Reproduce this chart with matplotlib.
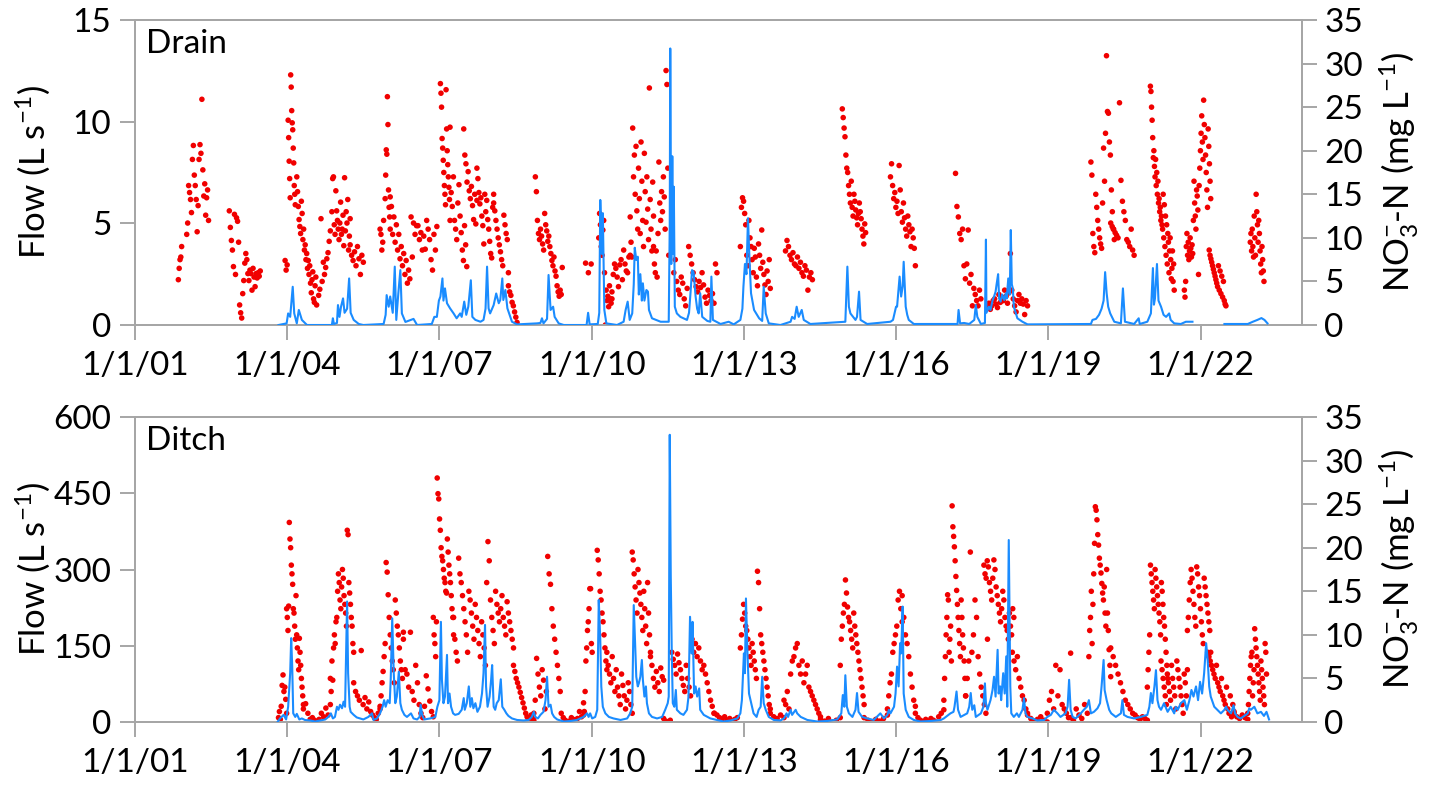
import numpy as np
import matplotlib
matplotlib.use("Agg")
import matplotlib.pyplot as plt
import matplotlib.dates as mdates
from matplotlib.ticker import FuncFormatter
from datetime import datetime

plt.rcParams['font.family'] = ['Lato', 'DejaVu Sans']
plt.rcParams['mathtext.fontset'] = 'custom'
plt.rcParams['mathtext.rm'] = 'Lato'
plt.rcParams['mathtext.it'] = 'Lato:italic'

nan = float('nan')

# ---- Drain: flow (L/s), (decimal year, value) ----
drain_flow = [
    (2003.83, 0), (2003.99, 0.08), (2004.02, 0.57), (2004.06, 0.4), (2004.11, 1.88), (2004.14, 0.57),
    (2004.19, 0.08), (2004.23, 0.74), (2004.29, 0.25), (2004.39, 0.0),
    (2004.88, 0.0), (2004.9, 0.33), (2004.92, 0.05), (2004.98, 0.1), (2005.0, 0.98), (2005.03, 0.4),
    (2005.06, 0.9), (2005.1, 1.31), (2005.13, 0.6), (2005.18, 0.8), (2005.22, 2.29), (2005.25, 0.6),
    (2005.31, 0.25), (2005.41, 0.05), (2005.5, 0.0),
    (2005.9, 0.05), (2005.94, 0.5), (2005.96, 1.47), (2006.0, 0.9), (2006.03, 1.4), (2006.08, 0.6),
    (2006.12, 2.87), (2006.15, 0.25), (2006.19, 1.55), (2006.23, 2.7), (2006.26, 0.57), (2006.33, 0.15),
    (2006.49, 0.3), (2006.56, 0.0),
    (2006.85, 0.05), (2006.9, 0.4), (2006.95, 0.4), (2006.99, 1.2), (2007.02, 1.4), (2007.06, 2.29),
    (2007.08, 1.2), (2007.11, 1.8), (2007.15, 1.07), (2007.21, 0.82), (2007.28, 0.57), (2007.34, 0.33),
    (2007.41, 0.57), (2007.44, 0.4), (2007.49, 1.15), (2007.53, 0.5), (2007.57, 0.9), (2007.62, 2.2),
    (2007.65, 0.4), (2007.71, 0.25), (2007.81, 0.16), (2007.87, 0.25), (2007.91, 0.8), (2007.94, 2.87),
    (2007.97, 0.82), (2008.0, 0.57), (2008.07, 0.98), (2008.12, 1.55), (2008.17, 1.07), (2008.2, 1.23),
    (2008.24, 2.29), (2008.26, 1.23), (2008.3, 1.72), (2008.34, 0.82), (2008.43, 0.16), (2008.53, 0.03),
    (2008.92, 0.08), (2008.99, 0.1), (2009.02, 0.33), (2009.05, 0.08), (2009.12, 0.3), (2009.15, 2.46),
    (2009.19, 0.74), (2009.24, 0.9), (2009.27, 0.4), (2009.35, 0.08), (2009.45, 0.0),
    (2009.9, 0.0), (2009.93, 0.6), (2009.96, 0.03),
    (2010.12, 0.05), (2010.15, 0.6), (2010.17, 6.15), (2010.2, 3.5), (2010.22, 5.5), (2010.25, 0.74),
    (2010.29, 0.08), (2010.5, 0.0),
    (2010.63, 0.16), (2010.67, 0.74), (2010.71, 1.15), (2010.75, 0.25), (2010.8, 0.57), (2010.83, 2.0),
    (2010.85, 3.8), (2010.88, 3.2), (2010.91, 3.36), (2010.93, 1.5), (2010.96, 2.5), (2010.99, 1.2),
    (2011.01, 2.05), (2011.04, 1.2), (2011.08, 1.72), (2011.11, 1.64), (2011.13, 0.74), (2011.19, 0.33),
    (2011.36, 0.16), (2011.52, 0.16), (2011.54, 5.0), (2011.55, 13.6), (2011.57, 3.0), (2011.59, 8.3),
    (2011.61, 3.5), (2011.62, 6.8), (2011.64, 0.9), (2011.68, 0.57), (2011.75, 0.4), (2011.88, 0.25),
    (2011.92, 0.6), (2011.95, 1.6), (2011.98, 2.7), (2012.01, 2.6), (2012.05, 1.4), (2012.08, 0.8),
    (2012.11, 0.57), (2012.14, 1.56), (2012.18, 0.4), (2012.28, 0.2), (2012.34, 0.16), (2012.36, 2.38),
    (2012.39, 0.25), (2012.54, 0.05), (2012.7, 0.16), (2012.8, 0.03),
    (2012.93, 0.25), (2012.97, 0.8), (2012.99, 1.88), (2013.02, 3.0), (2013.05, 2.5), (2013.08, 5.25),
    (2013.11, 3.2), (2013.14, 1.56), (2013.2, 0.74), (2013.3, 0.33), (2013.36, 0.2), (2013.39, 1.88),
    (2013.43, 0.57), (2013.49, 0.08), (2013.72, 0.0),
    (2013.92, 0.16), (2013.95, 0.4), (2014.0, 0.3), (2014.04, 0.9), (2014.08, 0.4), (2014.14, 0.74),
    (2014.18, 0.25), (2014.31, 0.05),
    (2015.0, 0.16), (2015.04, 2.87), (2015.07, 0.9), (2015.1, 0.57), (2015.2, 0.25), (2015.23, 0.4),
    (2015.27, 1.64), (2015.3, 0.25), (2015.43, 0.05),
    (2015.89, 0.16), (2015.94, 0.25), (2016.0, 0.9), (2016.02, 0.9), (2016.07, 2.38), (2016.1, 1.4),
    (2016.13, 1.9), (2016.15, 3.11), (2016.19, 0.9), (2016.22, 0.5), (2016.25, 0.25), (2016.35, 0.05),
    (2017.21, 0.05), (2017.23, 0.74), (2017.26, 0.08), (2017.34, 0.1), (2017.44, 0.05), (2017.54, 0.25),
    (2017.57, 0.98), (2017.6, 0.4), (2017.67, 0.05), (2017.75, 0.1), (2017.77, 4.2), (2017.78, 0.6),
    (2017.83, 0.9), (2017.86, 0.74), (2017.9, 1.2), (2017.93, 1.4), (2017.96, 1.64), (2017.98, 2.0),
    (2018.01, 2.5), (2018.03, 1.3), (2018.06, 1.15), (2018.09, 1.5), (2018.13, 1.23), (2018.16, 1.56),
    (2018.18, 1.3), (2018.21, 2.29), (2018.24, 1.5), (2018.26, 4.67), (2018.28, 2.0), (2018.3, 1.8),
    (2018.32, 0.9), (2018.39, 0.33), (2018.49, 0.16), (2018.59, 0.03),
    (2019.84, 0.05), (2019.87, 0.25), (2019.94, 0.3), (2020.0, 0.5), (2020.05, 0.8), (2020.09, 1.2),
    (2020.12, 2.6), (2020.15, 1.56), (2020.18, 0.9), (2020.22, 0.57), (2020.3, 0.16), (2020.43, 0.08),
    (2020.47, 1.8), (2020.51, 0.16), (2020.69, 0.05), (2020.78, 0.33), (2020.8, 0.05),
    (2020.95, 0.16), (2021.02, 0.57), (2021.06, 2.8), (2021.08, 1.0), (2021.1, 1.3), (2021.14, 3.0),
    (2021.17, 1.2), (2021.22, 0.9), (2021.27, 0.5), (2021.32, 0.4), (2021.38, 0.57), (2021.41, 0.25),
    (2021.48, 0.08), (2021.61, 0.05), (2021.71, 0.16), (2021.84, 0.16),
    (2022.15, nan),
    (2022.47, 0.05), (2022.93, 0.05), (2023.03, 0.16), (2023.12, 0.25), (2023.2, 0.34), (2023.26, 0.25),
    (2023.32, 0.08),
]

# ---- Drain: NO3-N (mg/L), sampling runs (start year, end year, values) ----
drain_no3 = [
    (2001.855, 2001.92, [5.2, 6.5, 7.5, 7.8, 9.0]),
    (2002.02, 2002.45, [10.4, 11.7, 16.0, 15.2, 14.4, 12.9, 19.0, 20.6, 17.2, 16.0, 14.4, 10.7, 13.7, 19.0,
                        20.7, 19.7, 25.9, 17.8, 14.8, 16.2, 12.6, 14.6, 15.5, 12.0]),
    (2002.86, 2003.47, [13.1, 11.2, 9.7, 8.6, 6.7, 12.7, 5.8, 12.3, 11.9, 9.5, 2.3, 1.4, 0.8, 3.6, 5.1, 7.1,
                        8.2, 7.5, 5.9, 5.1, 6.3, 5.9, 4.0, 6.5, 5.5, 4.4, 5.9, 5.4, 6.0, 5.6, 6.2]),
    (2003.96, 2004.0, [7.4, 6.3, 6.9]),
    (2004.02, 2004.16, [23.5, 21.5, 18.8, 16.8, 14.6, 28.7, 27.3, 24.6, 23.2, 22.4, 20.3, 18.6, 16.0, 15.0, 13.8]),
    (2004.19, 2004.58, [17.0, 15.3, 13.6, 12.1, 11.3, 10.5, 14.2, 12.8, 9.8, 11.0, 8.6, 9.2, 7.5, 8.2, 6.5, 7.4,
                        5.8, 6.8, 4.8, 3.7, 5.2, 6.1, 3.0, 2.6, 4.5, 5.5, 2.3]),
    (2004.62, 2004.85, [3.4, 4.1, 12.2, 5.0, 7.2, 5.8, 6.6, 7.6, 8.3, 9.6, 10.8]),
    (2004.88, 2005.24, [13.0, 16.8, 17.0, 11.5, 10.4, 15.4, 13.1, 12.0, 11.0, 9.8, 11.7, 14.1, 10.4, 11.0, 12.6,
                        9.1, 16.9, 10.8, 13.0, 11.7, 14.4, 8.6, 10.2, 12.2]),
    (2005.24, 2005.50, [9.2, 8.0, 7.4, 8.4, 6.8, 9.0, 7.6, 5.8, 8.0, 7.2]),
    (2005.83, 2005.90, [11.0, 10.4, 8.6, 9.5, 12.0]),
    (2005.93, 2006.03, [14.5, 17.2, 20.1, 19.6, 26.2, 23.0, 15.5, 13.5, 12.4, 11.0]),
    (2006.03, 2006.49, [14.7, 13.6, 10.4, 12.4, 9.5, 11.5, 8.6, 10.4, 7.6, 9.0, 6.8, 8.2, 5.8, 7.4, 4.8, 6.3,
                        5.3, 12.4, 7.8, 11.7]),
    (2006.52, 2006.95, [10.4, 11.4, 11.4, 9.8, 10.6, 8.6, 10.2, 8.7, 12.0, 11.0, 9.8, 7.5, 6.3, 10.4, 8.6, 11.3]),
    (2007.02, 2007.21, [27.7, 26.6, 25.0, 21.4, 20.3, 18.9, 17.5, 16.0, 15.0, 13.8, 27.0, 22.5, 20.0, 18.4, 17.0,
                        15.8, 14.4, 12.0]),
    (2007.21, 2007.54, [22.7, 15.2, 13.6, 17.0, 12.0, 11.0, 9.8, 14.0, 16.1, 12.5, 10.6, 8.6, 7.4, 11.4, 9.2, 6.7]),
    (2007.48, 2007.74, [22.5, 19.5, 18.5, 16.4, 17.6, 15.4, 14.5, 15.9, 13.7, 12.1, 15.0, 11.6, 14.3]),
    (2007.74, 2008.07, [18.0, 16.8, 15.2, 13.9, 14.6, 12.5, 11.4, 9.3, 15.0, 13.0, 14.3, 12.1, 11.0, 9.6, 8.2,
                        7.7, 13.5, 15.0]),
    (2008.07, 2008.36, [14.0, 13.1, 12.0, 11.0, 10.0, 9.2, 8.4, 7.5, 6.8, 12.6, 11.5, 10.5, 9.8, 6.0]),
    (2008.36, 2008.53, [4.5, 3.8, 3.4, 2.6, 2.2, 1.5, 0.9, 0.3]),
    (2008.89, 2009.42, [17.0, 15.3, 12.0, 10.5, 9.8, 11.0, 10.2, 9.3, 8.6, 12.8, 11.5, 10.8, 9.6, 10.2, 9.0, 8.2,
                        7.4, 6.8, 7.8, 6.2, 5.6, 4.5, 3.8, 3.3, 4.0, 3.5, 6.6]),
    (2009.88, 2009.99, [7.1, 6.0, 7.0]),
    (2010.14, 2010.40, [10.0, 12.8, 11.5, 9.0, 8.0, 10.9, 12.0, 6.0, 0.0, 4.0, 2.8, 3.3, 2.1, 4.5, 3.0, 2.5, 3.8]),
    (2010.40, 2010.76, [3.0, 5.8, 7.0, 6.5, 5.5, 4.4, 6.9, 7.5, 5.2, 8.6, 7.0, 6.2, 6.0, 7.8, 12.4]),
    (2010.76, 2011.22, [8.0, 9.5, 7.8, 22.6, 17.0, 19.5, 15.0, 20.5, 13.1, 11.0, 18.0, 14.5, 10.5, 21.0, 16.5,
                        12.0, 9.0, 19.7, 15.3, 11.8, 17.0, 13.3, 9.8, 27.2, 14.4, 11.0, 8.5, 16.4, 12.5]),
    (2011.22, 2011.52, [9.0, 7.0, 6.0, 8.5, 5.5, 10.5, 18.7, 14.0, 12.0, 15.3, 13.0, 17.0, 14.7, 11.0, 29.2,
                        27.6, 18.0, 8.0]),
    (2011.62, 2012.47, [6.0, 7.5, 5.0, 4.0, 3.5, 5.5, 4.8, 3.0, 2.2, 4.2, 9.0, 8.0, 7.0, 6.0, 5.2, 4.4, 3.8,
                        5.0, 4.3, 6.0, 4.6, 3.2, 2.5, 4.0, 3.4, 2.8, 3.6, 2.5, 7.0, 6.0]),
    (2012.93, 2013.52, [9.0, 13.5, 14.6, 14.2, 12.8, 11.5, 8.0, 6.8, 12.0, 10.0, 9.0, 7.5, 6.0, 8.8, 7.8, 5.5,
                        4.5, 9.3, 8.0, 6.5, 10.9, 7.2, 5.8, 4.6, 3.5, 6.2, 5.0, 7.5, 4.2]),
    (2013.82, 2014.35, [8.5, 9.7, 9.0, 8.0, 7.5, 8.3, 7.0, 6.8, 7.8, 6.5, 7.2, 6.0, 5.6, 6.8, 6.3, 4.0, 5.5,
                        6.0, 5.2]),
    (2014.94, 2015.40, [24.8, 23.8, 22.6, 21.6, 19.5, 18.0, 17.5, 16.0, 15.0, 14.0, 16.5, 13.5, 12.5, 15.0,
                        14.2, 13.2, 12.3, 11.5, 12.8, 14.0, 13.0, 12.2, 11.0, 10.2, 9.3, 11.6, 10.6]),
    (2015.89, 2016.38, [17.0, 18.5, 16.0, 14.5, 15.2, 13.5, 14.2, 12.8, 18.3, 15.5, 13.0, 11.8, 14.0, 12.3,
                        11.0, 10.2, 12.5, 11.5, 10.7, 9.0, 11.0, 10.0, 8.8, 6.8]),
    (2017.17, 2017.67, [17.4, 13.6, 12.4, 10.5, 9.8, 11.0, 6.8, 5.3, 7.0, 10.9, 4.8, 5.8, 2.2, 4.2, 3.5, 2.8,
                        2.2, 4.0, 3.0]),
    (2017.80, 2018.59, [2.0, 2.5, 1.8, 2.2, 2.8, 3.0, 2.4, 2.0, 3.5, 2.6, 3.2, 2.8, 4.0, 3.3, 2.5, 3.7, 8.2,
                        4.0, 3.0, 2.2, 1.5, 2.8, 3.5, 2.5, 3.0, 2.4, 1.2, 2.8, 2.2]),
    (2019.84, 2020.30, [18.7, 17.2, 10.5, 9.0, 8.3, 15.0, 13.5, 12.0, 11.0, 10.0, 9.3, 8.8, 14.0, 20.3, 16.5,
                        22.0, 30.9, 24.5, 24.3, 21.0, 19.5, 15.5, 13.0, 11.0, 9.8]),
    (2020.23, 2020.69, [11.7, 11.3, 11.0, 10.6, 10.3, 10.0, 25.5, 16.6, 14.2, 13.0, 12.0, 9.8, 9.5, 9.0, 11.0,
                        8.6, 8.0]),
    (2021.01, 2021.48, [27.4, 26.8, 25.0, 23.5, 21.5, 19.2, 20.0, 18.2, 17.0, 19.0, 16.0, 17.5, 15.0, 16.5,
                        14.0, 14.5, 13.0, 13.5, 12.0, 12.5, 11.5, 11.0, 15.0, 10.0, 13.8, 9.0, 12.5, 8.0, 11.5,
                        7.0, 10.5, 9.5, 6.0, 8.5, 10.0, 7.5, 5.3, 6.5, 8.5, 5.0, 7.0, 4.0]),
    (2021.68, 2022.20, [4.0, 3.2, 5.0, 9.0, 10.5, 8.0, 9.5, 7.5, 8.5, 10.0, 8.8, 7.8, 9.2, 8.2, 12.0, 16.5,
                        14.0, 12.5, 11.0, 15.5, 14.8, 13.2, 5.8, 16.0, 18.0, 20.0, 22.0, 24.0, 21.0, 19.0,
                        25.8, 23.0, 21.5, 19.5, 17.5, 15.5, 13.5, 22.5, 20.5, 18.5, 16.5, 14.5]),
    (2022.17, 2022.50, [8.6, 8.0, 7.6, 7.2, 6.8, 6.4, 6.0, 5.6, 5.2, 4.8, 4.4, 6.8, 4.0, 6.2, 3.6, 5.6, 3.2,
                        5.0, 2.8, 2.4, 2.2]),
    (2022.98, 2023.25, [9.5, 10.5, 8.5, 11.0, 9.0, 7.8, 12.5, 10.0, 8.0, 15.0, 13.0, 11.5, 9.5, 12.0, 10.5,
                        8.5, 7.0, 6.0, 9.0, 7.5, 6.2, 5.0]),
]

# ---- Ditch: flow (L/s) ----
ditch_flow = [
    (2003.81, 0), (2003.86, 7), (2003.93, 14), (2003.98, 5), (2004.02, 30), (2004.06, 96), (2004.08, 165),
    (2004.1, 109), (2004.12, 17), (2004.16, 10), (2004.19, 16), (2004.24, 5), (2004.29, 7), (2004.35, 4),
    (2004.45, 3), (2004.55, 1), (2004.65, 3), (2004.75, 5), (2004.81, 10), (2004.86, 17), (2004.9, 7),
    (2004.94, 10), (2004.98, 30), (2005.01, 24), (2005.04, 34), (2005.08, 27), (2005.11, 40), (2005.14, 30),
    (2005.18, 237), (2005.2, 96), (2005.23, 30), (2005.25, 20), (2005.31, 14), (2005.37, 9), (2005.5, 5),
    (2005.6, 10), (2005.67, 17), (2005.7, 4), (2005.77, 7), (2005.83, 17), (2005.88, 30), (2005.91, 43),
    (2005.94, 30), (2005.98, 43), (2006.02, 37), (2006.04, 83), (2006.07, 204), (2006.1, 96), (2006.13, 37),
    (2006.16, 50), (2006.2, 99), (2006.23, 37), (2006.26, 24), (2006.31, 14), (2006.36, 10), (2006.44, 17),
    (2006.49, 7), (2006.56, 5), (2006.61, 10), (2006.63, 34), (2006.66, 14), (2006.7, 5), (2006.82, 7),
    (2006.92, 10), (2006.96, 30), (2007.0, 43), (2007.03, 197), (2007.05, 83), (2007.08, 37), (2007.11, 50),
    (2007.15, 132), (2007.17, 37), (2007.2, 56), (2007.23, 30), (2007.27, 17), (2007.31, 14), (2007.38, 16),
    (2007.44, 24), (2007.48, 47), (2007.5, 24), (2007.54, 37), (2007.58, 70), (2007.61, 30), (2007.64, 47),
    (2007.67, 27), (2007.71, 37), (2007.75, 20), (2007.8, 30), (2007.84, 56), (2007.87, 96), (2007.9, 191),
    (2007.92, 70), (2007.95, 30), (2007.99, 50), (2008.02, 83), (2008.04, 112), (2008.07, 30), (2008.1, 24),
    (2008.13, 37), (2008.17, 43), (2008.21, 84), (2008.24, 30), (2008.28, 24), (2008.32, 17), (2008.36, 12),
    (2008.43, 7), (2008.53, 4), (2008.66, 3), (2008.76, 4), (2008.82, 10), (2008.86, 20), (2008.89, 10),
    (2008.94, 7), (2008.99, 14), (2009.05, 20), (2009.09, 43), (2009.12, 89), (2009.15, 30), (2009.19, 34),
    (2009.22, 17), (2009.26, 10), (2009.32, 5), (2009.45, 1), (2009.58, 2), (2009.71, 4), (2009.84, 10),
    (2009.91, 17), (2009.94, 10), (2009.97, 17), (2010.01, 7), (2010.07, 10), (2010.11, 24), (2010.14, 240),
    (2010.17, 161), (2010.19, 70), (2010.22, 30), (2010.27, 17), (2010.34, 10), (2010.43, 7), (2010.57, 4),
    (2010.7, 7), (2010.76, 17), (2010.8, 30), (2010.83, 230), (2010.86, 142), (2010.88, 89), (2010.91, 70),
    (2010.93, 76), (2010.96, 89), (2010.99, 122), (2011.01, 83), (2011.04, 50), (2011.07, 70), (2011.09, 37),
    (2011.13, 17), (2011.19, 10), (2011.29, 7), (2011.39, 10), (2011.45, 24), (2011.5, 37), (2011.52, 50),
    (2011.54, 565), (2011.56, 286), (2011.58, 135), (2011.6, 37), (2011.63, 30), (2011.66, 63), (2011.68, 24),
    (2011.75, 17), (2011.81, 14), (2011.88, 24), (2011.91, 50), (2011.94, 207), (2011.97, 135), (2011.99, 197),
    (2012.02, 56), (2012.05, 70), (2012.08, 50), (2012.12, 66), (2012.14, 24), (2012.21, 14), (2012.34, 7),
    (2012.47, 4), (2012.6, 1), (2012.74, 3), (2012.87, 7), (2012.93, 17), (2012.96, 43), (2013.0, 135),
    (2013.02, 96), (2013.04, 243), (2013.07, 135), (2013.1, 56), (2013.13, 43), (2013.16, 30), (2013.19, 17),
    (2013.25, 10), (2013.29, 24), (2013.33, 30), (2013.36, 89), (2013.39, 37), (2013.43, 24), (2013.49, 10),
    (2013.59, 4), (2013.72, 3), (2013.79, 7), (2013.84, 17), (2013.87, 10), (2013.92, 24), (2013.95, 14),
    (2014.02, 24), (2014.05, 17), (2014.12, 10), (2014.25, 4), (2014.44, 1), (2014.64, 2), (2014.84, 5),
    (2014.92, 17), (2014.95, 53), (2014.98, 30), (2015.0, 92), (2015.03, 30), (2015.07, 17), (2015.14, 10),
    (2015.2, 24), (2015.23, 57), (2015.26, 20), (2015.33, 10), (2015.43, 7), (2015.56, 4), (2015.66, 14),
    (2015.69, 17), (2015.76, 7), (2015.83, 14), (2015.86, 24), (2015.89, 17), (2015.96, 30), (2015.99, 56),
    (2016.02, 109), (2016.05, 70), (2016.08, 155), (2016.1, 135), (2016.13, 227), (2016.15, 56), (2016.19, 24),
    (2016.25, 10), (2016.35, 4), (2016.48, 1), (2016.68, 2), (2016.88, 4), (2016.94, 7), (2017.07, 17),
    (2017.13, 20), (2017.15, 30), (2017.19, 60), (2017.22, 24), (2017.27, 10), (2017.4, 17), (2017.44, 30),
    (2017.47, 57), (2017.5, 24), (2017.54, 33), (2017.57, 10), (2017.67, 17), (2017.72, 30), (2017.75, 76),
    (2017.77, 37), (2017.8, 24), (2017.86, 43), (2017.9, 63), (2017.93, 89), (2017.96, 50), (2018.0, 142),
    (2018.02, 56), (2018.05, 70), (2018.07, 43), (2018.11, 96), (2018.14, 56), (2018.17, 129), (2018.19, 30),
    (2018.22, 358), (2018.25, 70), (2018.27, 17), (2018.32, 10), (2018.38, 17), (2018.42, 10), (2018.49, 24),
    (2018.52, 47), (2018.55, 17), (2018.59, 10), (2018.69, 7), (2018.78, 3), (2018.92, 4), (2018.98, 10),
    (2019.05, 14), (2019.11, 24), (2019.18, 17), (2019.24, 10), (2019.34, 17), (2019.38, 30), (2019.41, 83),
    (2019.44, 24), (2019.48, 10), (2019.54, 7), (2019.64, 17), (2019.7, 24), (2019.76, 30), (2019.8, 43),
    (2019.84, 17), (2019.9, 20), (2019.97, 27), (2020.02, 37), (2020.05, 70), (2020.09, 122), (2020.11, 63),
    (2020.15, 43), (2020.2, 24), (2020.24, 17), (2020.33, 10), (2020.43, 17), (2020.46, 43), (2020.49, 14),
    (2020.56, 10), (2020.69, 7), (2020.82, 10), (2020.95, 14), (2020.99, 30), (2021.02, 57), (2021.05, 37),
    (2021.09, 70), (2021.12, 102), (2021.15, 43), (2021.18, 30), (2021.22, 24), (2021.28, 37), (2021.35, 20),
    (2021.41, 30), (2021.48, 17), (2021.51, 30), (2021.55, 24), (2021.61, 37), (2021.68, 43), (2021.73, 24),
    (2021.78, 43), (2021.82, 63), (2021.86, 50), (2021.91, 70), (2021.95, 43), (2021.99, 79), (2022.03, 56),
    (2022.07, 96), (2022.11, 155), (2022.14, 122), (2022.17, 70), (2022.2, 50), (2022.27, 30), (2022.33, 24),
    (2022.4, 17), (2022.47, 24), (2022.5, 30), (2022.53, 24), (2022.6, 17), (2022.65, 33), (2022.68, 17),
    (2022.73, 10), (2022.79, 7), (2022.93, 17), (2022.96, 27), (2022.99, 24), (2023.06, 30), (2023.12, 17),
    (2023.19, 20), (2023.25, 12), (2023.3, 20), (2023.35, 5),
]

# ---- Ditch: NO3-N (mg/L) ----
ditch_no3 = [
    (2003.83, 2003.99, [0.5, 1.2, 0.3, 1.8, 4.2, 5.4, 3.5, 4.0, 2.6, 1.0]),
    (2003.99, 2004.32, [13.0, 12.0, 10.5, 13.3, 22.9, 21.0, 20.0, 18.0, 17.0, 15.8, 13.0, 12.5, 11.0, 9.5,
                        14.5, 10.0, 8.5, 7.0, 6.0, 9.6, 8.0, 6.5, 5.0, 4.0, 3.0, 2.0]),
    (2004.32, 2004.85, [1.5, 2.1, 1.0, 0.3, 0.5, 0.2, 0.0, 0.3, 1.0, 0.6, 1.6, 0.8, 2.0]),
    (2004.85, 2005.31, [5.0, 3.5, 7.0, 4.8, 8.5, 10.0, 9.0, 11.5, 12.0, 15.0, 17.0, 16.0, 14.0, 13.0, 15.5,
                        17.5, 16.5, 14.5, 13.5, 12.5, 11.0, 22.0, 21.5, 16.0, 14.8, 13.5, 12.0, 11.0, 9.0, 8.0]),
    (2005.31, 2005.83, [4.5, 3.5, 3.0, 2.5, 8.2, 2.0, 2.8, 1.5, 2.3, 1.2, 0.8, 0.5, 0.3, 1.0, 1.8]),
    (2005.83, 2006.29, [1.5, 3.0, 4.5, 5.8, 7.5, 9.0, 18.3, 17.2, 14.6, 12.0, 10.0, 8.5, 7.0, 6.0, 4.5, 14.0,
                        12.5, 11.0, 10.0, 8.5, 7.0, 6.0, 5.0, 10.3]),
    (2006.29, 2006.88, [9.5, 6.0, 5.5, 4.0, 10.3, 3.5, 2.5, 6.5, 4.5, 2.0, 1.0, 0.5, 1.8, 5.3, 3.8, 2.4, 1.2, 0.6]),
    (2006.88, 2007.28, [12.0, 10.0, 9.0, 7.5, 11.5, 28.0, 26.2, 25.6, 23.3, 22.0, 20.0, 19.0, 18.5, 17.5, 16.5,
                        16.0, 15.0, 14.8, 21.0, 19.5, 18.0, 17.0, 16.0, 14.5, 13.0, 12.0, 10.0]),
    (2007.28, 2008.46, [12.0, 9.5, 8.0, 7.0, 18.8, 17.0, 16.0, 14.5, 13.0, 11.5, 10.0, 8.0, 15.0, 14.0, 12.5,
                        11.0, 9.5, 13.5, 12.0, 10.5, 9.0, 7.5, 11.5, 10.0, 8.5, 6.5, 16.0, 20.7, 18.5, 14.0,
                        12.0, 10.5, 9.0, 15.0, 13.5, 12.5, 11.5, 13.0, 14.5, 12.0, 11.0, 10.0, 13.8, 12.5,
                        11.5, 10.5, 9.5, 8.5]),
    (2008.46, 2008.86, [6.5, 5.8, 5.0, 4.5, 4.0, 3.4, 2.8, 2.2, 1.6, 1.0, 0.6, 0.3, 0.5, 0.8, 0.4, 0.2]),
    (2008.86, 2009.38, [1.0, 2.5, 7.3, 5.5, 4.0, 3.0, 6.0, 4.8, 1.5, 3.5, 19.0, 17.0, 15.8, 13.0, 11.0, 9.5,
                        8.0, 6.5, 5.0, 3.5]),
    (2009.40, 2009.84, [1.0, 0.5, 0.2, 0.0, 0.1, 0.5, 0.3, 0.0, 0.4, 1.2, 0.6, 0.8]),
    (2009.84, 2010.01, [2.2, 1.2, 3.5, 7.0, 8.5, 10.5, 11.5, 13.0, 15.3, 15.3, 9.0, 8.0]),
    (2010.11, 2010.30, [19.7, 18.6, 17.0, 15.0, 14.0, 12.5, 11.5, 10.0, 8.5, 7.0, 6.0]),
    (2010.30, 2010.80, [8.0, 6.5, 5.5, 4.5, 7.5, 5.0, 3.5, 6.0, 4.0, 3.0, 2.0, 5.5, 4.2, 3.0, 1.5, 2.5, 4.5,
                        3.5, 2.0, 1.0]),
    (2010.80, 2011.16, [19.5, 18.6, 17.0, 15.5, 14.0, 12.5, 17.5, 16.0, 14.8, 13.5, 12.0, 10.5, 15.0, 13.0,
                        11.0, 9.0, 16.0, 12.5, 10.0, 8.0]),
    (2011.16, 2011.42, [7.5, 6.5, 5.0, 4.0, 5.8, 4.5, 3.5, 6.2, 5.2, 4.8]),
    (2011.42, 2011.55, [0.4, 0.1, 0.0, 0.2]),
    (2011.58, 2011.95, [8.0, 7.2, 6.5, 5.5, 7.8, 6.8, 6.0, 5.0, 4.2, 3.5, 6.5, 5.0, 4.0, 3.0]),
    (2011.98, 2012.41, [9.5, 8.0, 9.0, 7.5, 8.5, 7.0, 6.0, 6.5, 5.5, 4.5, 3.5, 2.5, 1.8, 1.0]),
    (2012.42, 2012.87, [1.0, 0.8, 0.5, 0.3, 0.6, 0.2, 0.4, 0.1, 0.3, 0.5]),
    (2012.93, 2013.52, [8.5, 10.0, 11.8, 13.5, 12.5, 11.0, 10.5, 9.5, 8.5, 7.5, 6.5, 9.0, 8.0, 7.0, 6.0, 5.0,
                        17.3, 16.0, 13.0, 10.0, 9.0, 8.0, 7.0, 6.0, 5.0, 4.0, 3.0, 2.0, 1.5]),
    (2013.52, 2013.79, [1.0, 0.6, 0.4, 0.8, 0.5]),
    (2013.79, 2014.51, [2.5, 2.0, 3.5, 1.5, 5.5, 7.0, 7.5, 8.5, 9.0, 6.5, 5.5, 7.0, 4.5, 5.5, 6.5, 4.0, 3.5,
                        3.0, 2.5, 2.0, 1.5, 1.0, 0.6]),
    (2014.51, 2014.90, [0.3, 0.1, 0.4, 0.0, 0.2, 0.5]),
    (2014.90, 2015.37, [6.5, 9.5, 11.0, 12.5, 13.5, 16.3, 14.8, 13.2, 12.0, 11.5, 10.5, 9.5, 8.5, 12.5, 11.0,
                        10.0, 9.0, 8.0, 7.0, 6.0, 5.0, 4.0, 3.0, 2.0]),
    (2015.37, 2015.83, [0.5, 0.2, 0.0, 0.3, 0.1, 0.4, 0.8]),
    (2015.83, 2016.12, [1.5, 3.0, 4.5, 5.5, 8.0, 9.0, 10.0, 11.0, 14.0, 15.0, 13.0, 11.5]),
    (2016.12, 2016.38, [14.5, 12.0, 10.0, 9.0, 7.5, 5.5, 4.0, 2.5, 1.8]),
    (2016.38, 2016.94, [1.0, 0.5, 0.2, 0.0, 0.3, 0.1, 0.4, 0.2, 0.0, 0.6, 1.0, 1.4]),
    (2016.94, 2017.37, [2.5, 5.0, 7.5, 10.0, 12.0, 14.6, 14.0, 8.0, 9.5, 11.0, 7.0, 24.8, 22.4, 21.3, 20.1,
                        18.5, 16.7, 15.1, 13.5, 12.0, 10.5, 9.0, 7.5, 14.0, 12.0, 10.0, 8.5, 7.0, 5.0, 3.0]),
    (2017.37, 2017.80, [3.0, 5.0, 7.0, 19.5, 8.0, 10.0, 14.0, 12.0, 7.5, 5.5, 4.0, 3.0, 2.0, 1.0, 9.5]),
    (2017.73, 2018.32, [18.0, 17.0, 16.5, 18.5, 17.8, 16.0, 15.0, 14.0, 16.5, 18.6, 17.5, 15.5, 14.5, 13.5,
                        12.5, 11.5, 13.0, 15.0, 14.0, 12.0, 11.0, 10.5, 9.5, 12.5, 11.0, 10.0, 13.0, 12.0]),
    (2018.29, 2018.59, [8.0, 7.0, 6.0, 7.5, 5.0, 4.0, 3.0, 2.5, 1.5, 1.0]),
    (2018.59, 2018.98, [0.8, 0.4, 0.1, 0.3, 0.6, 0.2, 0.0]),
    (2018.98, 2019.44, [1.0, 2.5, 3.5, 1.5, 6.5, 3.0, 6.0, 2.0, 1.5, 1.0, 0.5, 7.9]),
    (2019.44, 2019.77, [0.5, 0.2, 1.5, 0.8, 0.4, 2.0, 1.0]),
    (2019.80, 2020.23, [7.5, 10.5, 12.0, 15.0, 9.0, 13.5, 17.0, 20.5, 24.7, 24.3, 23.2, 21.5, 20.3, 18.8,
                        18.0, 17.1, 15.9, 14.8, 14.0, 15.5, 12.5, 11.0, 17.5, 12.5, 10.5, 8.3, 6.5, 5.2]),
    (2020.23, 2020.95, [8.5, 7.5, 6.5, 5.5, 4.5, 3.5, 2.5, 2.0, 1.5, 1.0, 0.8, 0.5, 0.3, 0.6, 0.4, 0.2]),
    (2020.95, 2021.35, [4.0, 6.0, 8.0, 10.0, 18.0, 17.0, 16.0, 15.0, 14.0, 13.0, 17.5, 16.5, 15.5, 14.5,
                        13.5, 12.5, 11.5, 10.0, 16.0, 15.0, 13.5, 12.0, 11.0, 9.5, 8.0, 6.5, 5.0]),
    (2021.22, 2021.74, [7.0, 6.0, 5.0, 4.0, 3.0, 2.0, 5.5, 4.5, 3.5, 2.5, 6.5, 5.0, 4.0, 3.0, 1.5, 7.0, 6.0,
                        5.0, 4.0, 3.0, 2.0, 1.0, 5.5, 4.5, 3.0, 6.0]),
    (2021.74, 2022.20, [10.5, 12.0, 14.0, 16.0, 17.5, 16.5, 15.0, 13.5, 12.0, 11.0, 17.8, 17.0, 15.5, 14.5,
                        13.0, 11.5, 10.0, 9.0, 16.5, 15.5, 14.5, 13.5, 12.5, 11.5, 10.5, 8.0]),
    (2022.14, 2022.66, [8.0, 7.5, 7.0, 6.5, 6.0, 5.5, 5.0, 6.5, 4.5, 4.0, 3.5, 5.0, 3.0, 2.5, 2.0, 4.0, 1.5,
                        1.0, 3.0, 0.6, 2.0, 1.2]),
    (2022.66, 2022.93, [1.0, 0.6, 0.4, 0.8, 0.5, 0.3]),
    (2022.93, 2023.30, [1.0, 2.0, 3.5, 5.0, 6.5, 7.5, 8.0, 3.0, 4.5, 6.0, 10.7, 9.5, 8.5, 7.5, 6.5, 5.5, 4.5,
                        3.5, 2.5, 7.0, 6.0, 5.0, 4.0, 3.0, 2.0, 9.0, 8.0, 5.5]),
]

panel_names = ["Drain", "Ditch"]
flow_ticks = [[0, 5, 10, 15], [0, 150, 300, 450, 600]]
no3_ticks = [0, 5, 10, 15, 20, 25, 30, 35]
tick_years = [2001, 2004, 2007, 2010, 2013, 2016, 2019, 2022]

RED = "#f00000"
BLUE = "#1a8cff"
GREY = "#a6a6a6"


def year_to_num(y):
    yi = int(np.floor(y))
    a = mdates.date2num(datetime(yi, 1, 1))
    b = mdates.date2num(datetime(yi + 1, 1, 1))
    return a + (y - yi) * (b - a)


def date_label(x, pos):
    d = mdates.num2date(x)
    return f"{d.month}/{d.day}/{d.year % 100:02d}"


fig = plt.figure(figsize=(14.29, 7.9), dpi=100)
W, H = 1429, 790
boxes = [(135, 20, 1302, 325), (135, 417, 1302, 722)]
flows = [drain_flow, ditch_flow]
no3s = [drain_no3, ditch_no3]

for k in range(2):
    x0, y0, x1, y1 = boxes[k]
    ax = fig.add_axes([x0 / W, 1 - y1 / H, (x1 - x0) / W, (y1 - y0) / H])
    ax2 = ax.twinx()
    ax.set_zorder(ax2.get_zorder() + 1)
    ax.patch.set_visible(False)

    # red NO3 dots on the right axis
    xs, ys = [], []
    for start, end, vals in no3s[k]:
        xs.extend(np.linspace(start, end, len(vals)))
        ys.extend(vals)
    ax2.scatter([year_to_num(v) for v in xs], ys, s=16, color=RED, edgecolors='none', zorder=2)

    # blue flow line on the left axis
    fy, fv = zip(*flows[k])
    ax.plot([year_to_num(v) for v in fy], fv, color=BLUE, lw=1.5, zorder=3)

    ax.set_xlim(year_to_num(2001), year_to_num(2024))
    ax.set_ylim(0, flow_ticks[k][-1])
    ax.set_yticks(flow_ticks[k])
    ax2.set_ylim(0, 35)
    ax2.set_yticks(no3_ticks)
    ax.set_xticks([year_to_num(y) for y in tick_years])
    ax.xaxis.set_major_formatter(FuncFormatter(date_label))

    for a in (ax, ax2):
        for sp in a.spines.values():
            sp.set_color(GREY)
            sp.set_linewidth(1.4)
        a.tick_params(length=11, width=1.4, color=GREY, labelsize=24, labelcolor='black')
    ax.tick_params(axis='y', pad=6)
    ax.tick_params(axis='x', pad=8)
    ax2.tick_params(axis='y', pad=5)

    ax.set_ylabel(r'Flow (L s$^{-1}$)', fontsize=25)
    ax.yaxis.set_label_coords(-0.071, 0.5)
    ax2.set_ylabel(r'NO$_3^{-}$-N (mg L$^{-1}$)', fontsize=25)
    ax2.yaxis.set_label_coords(1.065, 0.5)

    ax.text(0.0095, 0.92, panel_names[k], transform=ax.transAxes, fontsize=24,
            ha='left', va='center')

fig.savefig("out.png", dpi=100)
